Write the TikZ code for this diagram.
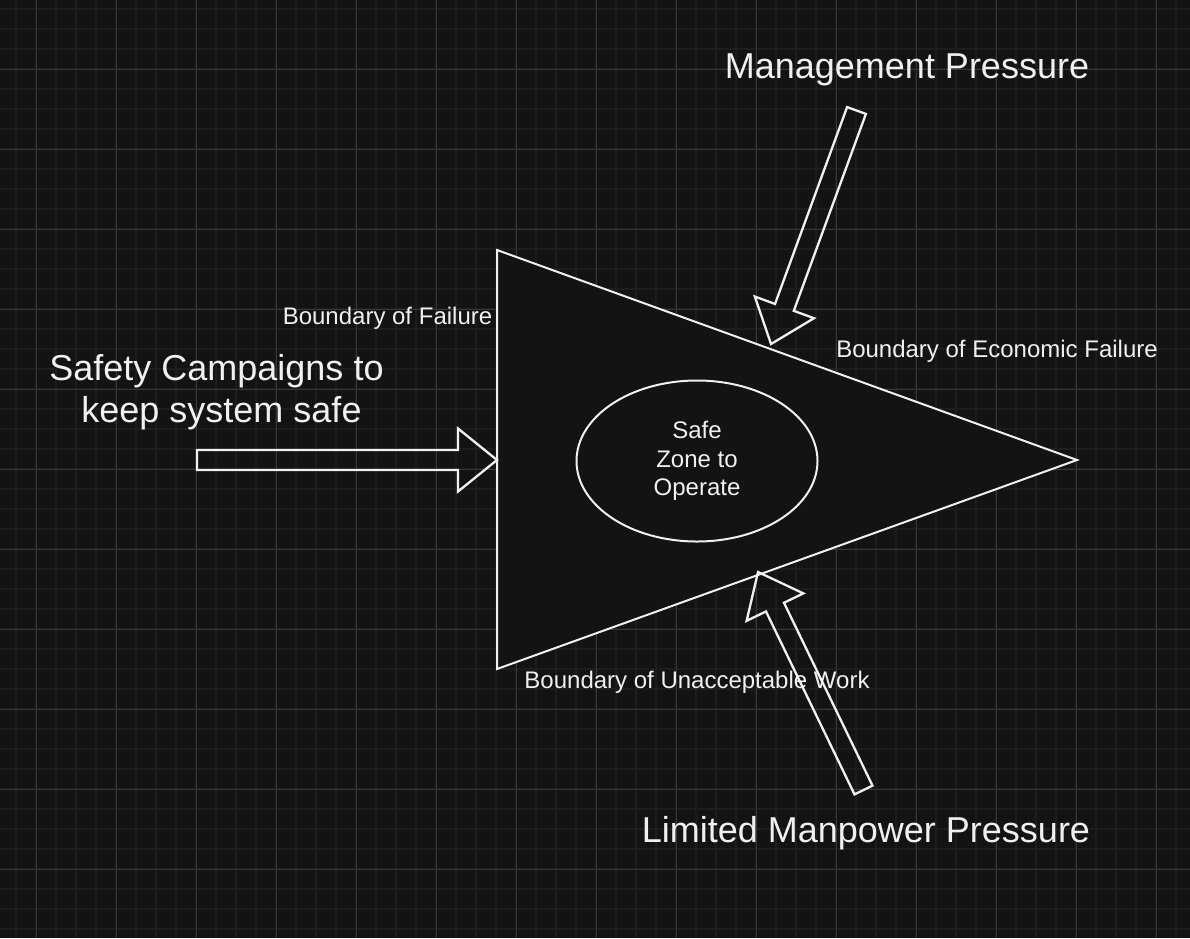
\documentclass[tikz,border=0pt]{standalone}
\usepackage{fontspec}
\setmainfont{Liberation Sans}
\usetikzlibrary{calc,shapes.geometric}
\definecolor{bgc}{RGB}{19,19,19}
\definecolor{minorc}{RGB}{29,29,29}
\definecolor{majorc}{RGB}{56,56,56}
\definecolor{fg}{RGB}{240,240,240}
\tikzset{
  shapeline/.style={draw=fg, line width=2pt, fill=bgc, line join=miter},
  arrowline/.style={draw=fg, line width=2.3pt, line join=miter},
  bigtext/.style={text=fg, font=\fontsize{36}{42}\selectfont, inner sep=0pt},
  smalltext/.style={text=fg, font=\fontsize{24}{28.6}\selectfont, inner sep=0pt},
  minorgrid/.style={draw=minorc, line width=1.3pt},
  majorgrid/.style={draw=majorc, line width=1pt},
}
% #1 = tail coordinate name, #2 = tip coordinate name
\newcommand{\fatarrow}[2]{%
  \coordinate (#1hb) at ($(#2)!39pt!(#1)$);
  \draw[arrowline]
    ($(#1)!10pt!90:(#2)$) -- ($(#1hb)!10pt!90:(#2)$) -- ($(#1hb)!31.5pt!90:(#2)$)
    -- (#2)
    -- ($(#1hb)!31.5pt!-90:(#2)$) -- ($(#1hb)!10pt!-90:(#2)$) -- ($(#1)!10pt!-90:(#2)$)
    -- cycle;
}
\begin{document}
\begin{tikzpicture}[x=1pt,y=-1pt]
  \useasboundingbox (0,0) rectangle (1190,938);
  \fill[bgc] (0,0) rectangle (1190,938);
  % grid
  \foreach \x in {16,36,...,1176} \draw[minorgrid] (\x,0) -- (\x,938);
  \foreach \y in {9,29,...,929} \draw[minorgrid] (0,\y) -- (1190,\y);
  \foreach \x in {36,116,...,1156} \draw[majorgrid] (\x,0) -- (\x,938);
  \foreach \y in {69,149,...,929} \draw[majorgrid] (0,\y) -- (1190,\y);

  % triangle
  \coordinate (triTop) at (497,250);
  \coordinate (triTip) at (1077,460);
  \coordinate (triBot) at (497,669);
  \draw[shapeline] (triTop) -- (triTip) -- (triBot) -- cycle;

  % safe zone
  \node[shapeline, ellipse, minimum width=241pt, minimum height=161pt,
        smalltext, align=center] (zone) at (697,461) {Safe\\Zone to\\Operate};

  % arrows
  \coordinate (leftTail) at (197,460);
  \coordinate (leftTip) at (497,460);
  \fatarrow{leftTail}{leftTip}
  \coordinate (mgtTail) at (856.5,110.5);
  \coordinate (mgtTip) at (771,344);
  \fatarrow{mgtTail}{mgtTip}
  \coordinate (manTail) at (863.5,790);
  \coordinate (manTip) at (758,572);
  \fatarrow{manTail}{manTip}

  % labels
  \node[bigtext, anchor=base] (mgmt) at (907,78) {Management Pressure};
  \node[bigtext, anchor=base] (limited) at (866,842) {Limited Manpower Pressure};
  \node[bigtext, align=center] (safety) at (221.5,392) {Safety Campaigns to\kern10pt\\keep system safe};
  \node[smalltext, anchor=base] (bfail) at (387.5,324) {Boundary of Failure};
  \node[smalltext, anchor=base] (becon) at (997,357) {Boundary of Economic Failure};
  \node[smalltext, anchor=base] (bwork) at (697,688) {Boundary of Unacceptable Work};
\end{tikzpicture}
\end{document}
